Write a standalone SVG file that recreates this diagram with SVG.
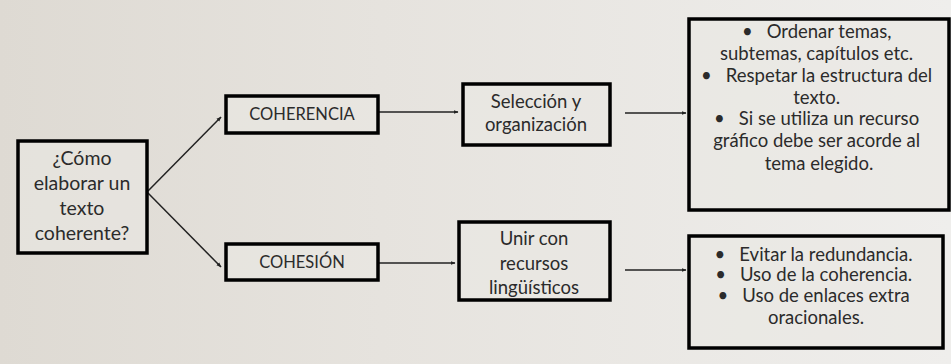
<svg xmlns="http://www.w3.org/2000/svg" width="951" height="364" viewBox="0 0 951 364">
<defs>
<linearGradient id="bg" x1="0" y1="0" x2="1" y2="0">
<stop offset="0" stop-color="#dedad3"/>
<stop offset="0.4" stop-color="#e6e3de"/>
<stop offset="1" stop-color="#efeeec"/>
</linearGradient>
<marker id="ah" viewBox="0 0 10 10" refX="9" refY="5" markerWidth="5" markerHeight="5" orient="auto" markerUnits="userSpaceOnUse">
<path d="M0,1 L10,5 L0,9 z" fill="#222"/>
</marker>
<style>
.box{fill:#e9e7e3;fill-opacity:0.6;stroke:#000;stroke-width:3.5}
.t{font-family:Lato,"Open Sans","Liberation Sans",sans-serif;fill:#2b2b2b;text-anchor:middle}
.conn{stroke:#222;stroke-width:1.5;fill:none;marker-end:url(#ah)}
</style>
</defs>
<rect x="0" y="0" width="951" height="364" fill="url(#bg)"/>
<g id="connectors">
<line class="conn" x1="147" y1="192" x2="221" y2="117"/>
<line class="conn" x1="147" y1="192" x2="221" y2="267"/>
<line class="conn" x1="378" y1="112" x2="458" y2="112"/>
<line class="conn" x1="378" y1="263" x2="455" y2="263"/>
<line class="conn" x1="625" y1="113" x2="686" y2="113"/>
<line class="conn" x1="625" y1="270" x2="686" y2="270"/>
</g>
<g id="question">
<rect class="box" x="18" y="141" width="129" height="112"/>
<text class="t" font-size="19.5"><tspan x="82" y="165">¿Cómo</tspan><tspan x="82" y="190">elaborar un</tspan><tspan x="82" y="215">texto</tspan><tspan x="82" y="240">coherente?</tspan></text>
</g>
<g id="coherencia">
<rect class="box" x="226" y="96" width="152" height="37"/>
<text class="t" font-size="16.5" x="302" y="120">COHERENCIA</text>
</g>
<g id="cohesion">
<rect class="box" x="226" y="244" width="152" height="36"/>
<text class="t" font-size="16.5" x="302" y="268">COHESIÓN</text>
</g>
<g id="seleccion">
<rect class="box" x="463" y="84" width="147" height="61"/>
<text class="t" font-size="18.5"><tspan x="536" y="108">Selección y</tspan><tspan x="536" y="131">organización</tspan></text>
</g>
<g id="unir">
<rect class="box" x="459" y="222" width="151" height="78"/>
<text class="t" font-size="18.5"><tspan x="534" y="245">Unir con</tspan><tspan x="534" y="270">recursos</tspan><tspan x="534" y="294">lingüísticos</tspan></text>
</g>
<g id="coherencia-detalle">
<rect class="box" x="689" y="19" width="260" height="191"/>
<text class="t" font-size="18.5">
<tspan x="819" y="38">•<tspan dx="14">Ordenar temas,</tspan></tspan>
<tspan x="819" y="60">subtemas, capítulos etc.</tspan>
<tspan x="819" y="82">•<tspan dx="14">Respetar la estructura del</tspan></tspan>
<tspan x="819" y="104">texto.</tspan>
<tspan x="819" y="125">•<tspan dx="14">Si se utiliza un recurso</tspan></tspan>
<tspan x="819" y="147">gráfico debe ser acorde al</tspan>
<tspan x="819" y="170">tema elegido.</tspan>
</text>
</g>
<g id="cohesion-detalle">
<rect class="box" x="689" y="236" width="254" height="112"/>
<text class="t" font-size="18.5">
<tspan x="816" y="261">•<tspan dx="14">Evitar la redundancia.</tspan></tspan>
<tspan x="816" y="281">•<tspan dx="14">Uso de la coherencia.</tspan></tspan>
<tspan x="816" y="302">•<tspan dx="14">Uso de enlaces extra</tspan></tspan>
<tspan x="816" y="324">oracionales.</tspan>
</text>
</g>
</svg>
